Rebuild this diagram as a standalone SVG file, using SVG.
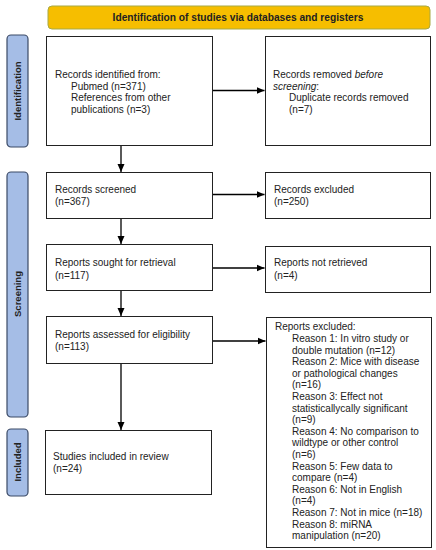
<svg xmlns="http://www.w3.org/2000/svg" width="436" height="550" viewBox="0 0 436 550">
<defs>
<marker id="ah" markerWidth="9" markerHeight="9" refX="8" refY="4.5" orient="auto" markerUnits="userSpaceOnUse">
<path d="M0,1 L8,4.5 L0,8 Z" fill="#000"/>
</marker>
<style>
text{font-family:"Liberation Sans",Arial,sans-serif;font-size:10px;fill:#222}
.box{fill:#fff;stroke:#222;stroke-width:1}
.side{fill:#a5bde6;stroke:#3b4a66;stroke-width:1.2}
.sl{font-weight:bold;font-size:9.5px;text-anchor:middle}
.hd{font-weight:bold;font-size:10.2px;text-anchor:middle}
.cn{stroke:#000;stroke-width:1.3;fill:none;marker-end:url(#ah)}
</style>
</defs>
<rect width="436" height="550" fill="#fff"/>
<g id="header">
<rect x="48" y="6" width="382" height="23" rx="4" fill="#f6be00" stroke="#a7a945" stroke-width="1"/>
<text class="hd" x="238" y="21">Identification of studies via databases and registers</text>
</g>
<g id="side-identification">
<rect class="side" x="7" y="35" width="21" height="112" rx="4"/>
<text class="sl" transform="translate(21,91) rotate(-90)">Identification</text>
</g>
<g id="side-screening">
<rect class="side" x="7" y="172" width="21" height="245" rx="4"/>
<text class="sl" transform="translate(21,294) rotate(-90)">Screening</text>
</g>
<g id="side-included">
<rect class="side" x="7" y="429" width="21" height="67" rx="4"/>
<text class="sl" transform="translate(21,462) rotate(-90)">Included</text>
</g>
<g id="records-identified">
<rect class="box" x="46.5" y="36.5" width="166" height="109"/>
<text x="55" y="78">Records identified from:</text>
<text x="71" y="89.5">Pubmed (n=371)</text>
<text x="71" y="101">References from other</text>
<text x="71" y="112.5">publications (n=3)</text>
</g>
<g id="records-removed">
<rect class="box" x="265.5" y="36.5" width="165" height="109"/>
<text x="273" y="78">Records removed <tspan font-style="italic">before</tspan></text>
<text x="273" y="89.5"><tspan font-style="italic">screening</tspan>:</text>
<text x="289" y="101">Duplicate records removed</text>
<text x="289" y="112.5">(n=7)</text>
</g>
<g id="records-screened">
<rect class="box" x="46.5" y="172.5" width="166" height="46"/>
<text x="55" y="192.5">Records screened</text>
<text x="55" y="205">(n=367)</text>
</g>
<g id="records-excluded">
<rect class="box" x="265.5" y="172.5" width="165" height="46"/>
<text x="274" y="192.5">Records excluded</text>
<text x="274" y="205">(n=250)</text>
</g>
<g id="reports-sought">
<rect class="box" x="46.5" y="244.5" width="166" height="46"/>
<text x="55" y="266">Reports sought for retrieval</text>
<text x="55" y="278.5">(n=117)</text>
</g>
<g id="reports-not-retrieved">
<rect class="box" x="265.5" y="246.5" width="165" height="46"/>
<text x="274" y="266">Reports not retrieved</text>
<text x="274" y="278.5">(n=4)</text>
</g>
<g id="reports-assessed">
<rect class="box" x="46.5" y="316.5" width="166" height="47"/>
<text x="55" y="337.5">Reports assessed for eligibility</text>
<text x="55" y="349.5">(n=113)</text>
</g>
<g id="reports-excluded">
<rect class="box" x="266.5" y="317.5" width="165" height="230"/>
<text x="275" y="329.5">Reports excluded:</text>
<text x="292" y="342">Reason 1: In vitro study or</text>
<text x="292" y="353.6">double mutation (n=12)</text>
<text x="292" y="365.2">Reason 2: Mice with disease</text>
<text x="292" y="376.8">or pathological changes</text>
<text x="292" y="388.4">(n=16)</text>
<text x="292" y="400">Reason 3: Effect not</text>
<text x="292" y="411.6">statisticallycally significant</text>
<text x="292" y="423.2">(n=9)</text>
<text x="292" y="434.8">Reason 4: No comparison to</text>
<text x="292" y="446.4">wildtype or other control</text>
<text x="292" y="458">(n=6)</text>
<text x="292" y="469.6">Reason 5: Few data to</text>
<text x="292" y="481.2">compare (n=4)</text>
<text x="292" y="492.8">Reason 6: Not in English</text>
<text x="292" y="504.4">(n=4)</text>
<text x="292" y="516">Reason 7: Not in mice (n=18)</text>
<text x="292" y="527.6">Reason 8: miRNA</text>
<text x="292" y="539.2">manipulation (n=20)</text>
</g>
<g id="studies-included">
<rect class="box" x="45.5" y="430.5" width="166" height="64"/>
<text x="53" y="460">Studies included in review</text>
<text x="53" y="472">(n=24)</text>
</g>
<g id="connectors">
<line class="cn" x1="213" y1="90.5" x2="264.5" y2="90.5"/>
<line class="cn" x1="121" y1="146" x2="121" y2="172"/>
<line class="cn" x1="213" y1="194.5" x2="264.5" y2="194.5"/>
<line class="cn" x1="121" y1="219" x2="121" y2="244"/>
<line class="cn" x1="213" y1="268" x2="264.5" y2="268"/>
<line class="cn" x1="121" y1="291" x2="121" y2="316"/>
<line class="cn" x1="213" y1="341" x2="265.5" y2="341"/>
<line class="cn" x1="121" y1="364" x2="121" y2="430"/>
</g>
</svg>
